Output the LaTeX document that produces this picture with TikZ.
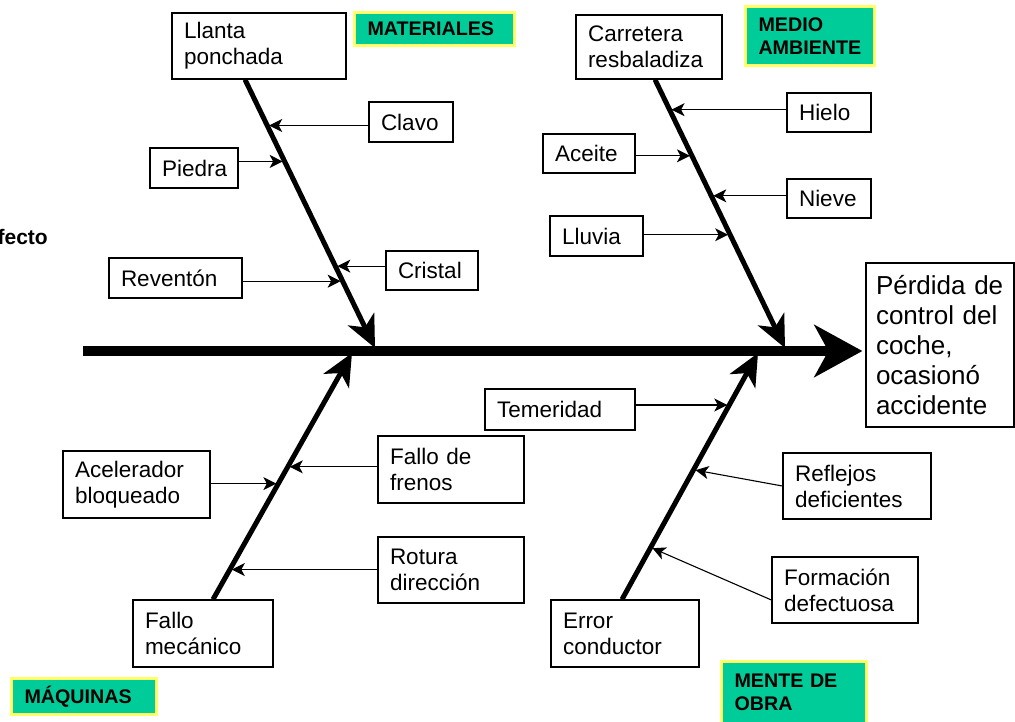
\documentclass[tikz,border=0pt]{standalone}
\usepackage{fontspec}
\setmainfont{Liberation Sans}
\usetikzlibrary{arrows.meta,calc}
\definecolor{catfill}{HTML}{00CC99}
\definecolor{catedge}{HTML}{FFFF66}
\begin{document}
\begin{tikzpicture}[x=1pt,y=-1pt,
  box/.style={draw=black, line width=1.2pt, fill=white, align=left,
    inner xsep=12pt, inner ysep=0pt, font=\fontsize{22.5}{26}\selectfont},
  cat/.style={draw=catedge, line width=3pt, fill=catfill, align=left,
    inner xsep=13pt, inner ysep=0pt, font=\fontsize{19.7}{23}\selectfont\bfseries},
  bone/.style={line width=5pt, -{Stealth[length=32pt,width=29pt,inset=9pt]}},
  spine/.style={line width=10pt, -{Stealth[length=48pt,width=52pt,inset=14pt]}},
  cause/.style={line width=1.1pt, -{Stealth[length=13pt,width=13pt,inset=3.5pt]},
    shorten >=2pt},
]
\useasboundingbox (0,0) rectangle (1015,721);
\clip (0,0) rectangle (1015,721);

% heading running off the left margin
\node[anchor=east, inner sep=0pt, font=\fontsize{21}{21}\selectfont\bfseries]
  (efecto) at (48,237) {Efecto};

% category labels
\node[cat, text width=134pt, minimum height=33pt] (materiales) at (434.5,29) {MATERIALES};
\node[cat, text width=103pt, minimum height=59pt] (medio) at (810,36) {MEDIO\\AMBIENTE};
\node[cat, text width=119pt, minimum height=36pt] (maquinas) at (84,696.5) {MÁQUINAS};
\node[cat, text width=119pt, minimum height=62pt] (mente) at (794,692) {MENTE DE\\OBRA};

% main causes
\node[box, text width=150pt, minimum height=66pt] (llanta) at (259,46) {Llanta\\ponchada};
\node[box, text width=122pt, minimum height=64pt] (carretera) at (649,47) {Carretera\\resbaladiza};
\node[box, text width=116pt, minimum height=67pt] (mecanico) at (203,633.5) {Fallo\\mecánico};
\node[box, text width=124pt, minimum height=67pt] (error) at (625,633.5) {Error\\conductor};

% secondary causes
\node[box, text width=60pt, minimum height=40pt] (clavo) at (411,122) {Clavo};
\node[box, text width=64pt, minimum height=40pt] (piedra) at (194,168) {Piedra};
\node[box, text width=68pt, minimum height=39pt] (cristal) at (432,270.5) {Cristal};
\node[box, text width=109pt, minimum height=40pt] (reventon) at (175.5,278) {Reventón};
\node[box, text width=60pt, minimum height=39pt] (hielo) at (829,112.5) {Hielo};
\node[box, text width=68pt, minimum height=39pt] (aceite) at (589,153.5) {Aceite};
\node[box, text width=60pt, minimum height=39pt] (nieve) at (829,198.5) {Nieve};
\node[box, text width=69pt, minimum height=40pt] (lluvia) at (596.5,236) {Lluvia};
\node[box, text width=126pt, minimum height=41pt] (temeridad) at (560,409.5) {Temeridad};
\node[box, text width=123pt, minimum height=67pt] (acelerador) at (136.5,484.5) {Acelerador\\bloqueado};
\node[box, text width=122pt, minimum height=67pt] (frenos) at (451,469.5) {Fallo de\\frenos};
\node[box, text width=124pt, minimum height=66pt] (reflejos) at (857,486) {Reflejos\\deficientes};
\node[box, text width=122pt, minimum height=66pt] (rotura) at (451,570) {Rotura\\dirección};
\node[box, text width=122pt, minimum height=66pt] (formacion) at (845,590) {Formación\\defectuosa};

% effect
\node[box, inner xsep=10pt, text width=128pt, minimum height=164pt,
  font=\fontsize{26}{30}\selectfont] (perdida) at (940,345)
  {Pérdida de\\control del\\coche,\\ocasionó\\accidente};

% bone tips on the spine
\coordinate (ultip) at (375,348);
\coordinate (urtip) at (785,348);
\coordinate (lltip) at (352,353);
\coordinate (lrtip) at (758,353);
\coordinate (sp) at (83,351);

% bones
\draw[bone] ([xshift=-14pt]llanta.south) -- (ultip);
\draw[bone] ([xshift=6pt]carretera.south) -- (urtip);
\draw[bone] ([xshift=10pt]mecanico.north) -- (lltip);
\draw[bone] ([xshift=-3pt]error.north) -- (lrtip);

% points on the bones where the small arrows land
\path ([xshift=-14pt]llanta.south) -- (ultip)
  coordinate[pos=0.171] (ul1) coordinate[pos=0.305] (ul2)
  coordinate[pos=0.695] (ul3) coordinate[pos=0.751] (ul4);
\path ([xshift=6pt]carretera.south) -- (urtip)
  coordinate[pos=0.112] (ur1) coordinate[pos=0.284] (ur2)
  coordinate[pos=0.433] (ur3) coordinate[pos=0.578] (ur4);
\path ([xshift=10pt]mecanico.north) -- (lltip)
  coordinate[pos=0.121] (ll1) coordinate[pos=0.470] (ll2)
  coordinate[pos=0.538] (ll3);
\path ([xshift=-3pt]error.north) -- (lrtip)
  coordinate[pos=0.211] (lr1) coordinate[pos=0.526] (lr2)
  coordinate[pos=0.789] (lr3);

% spine
\draw[spine, shorten >=3pt] (sp) -- (perdida.west |- sp);

% small cause arrows
\draw[cause] (clavo.west |- ul1) -- (ul1);
\draw[cause] (piedra.east |- ul2) -- (ul2);
\draw[cause] (cristal.west |- ul3) -- (ul3);
\draw[cause] (reventon.east |- ul4) -- (ul4);
\draw[cause] (hielo.west |- ur1) -- (ur1);
\draw[cause] (aceite.east |- ur2) -- (ur2);
\draw[cause] (nieve.west |- ur3) -- (ur3);
\draw[cause] (lluvia.east |- ur4) -- (ur4);
\draw[cause] (rotura.west |- ll1) -- (ll1);
\draw[cause] (acelerador.east |- ll2) -- (ll2);
\draw[cause] (frenos.west |- ll3) -- (ll3);
\draw[cause] ([yshift=-10pt]formacion.west) -- (lr1);
\draw[cause] (reflejos.west) -- (lr2);
\draw[cause] (temeridad.east |- lr3) -- (lr3);
\end{tikzpicture}
\end{document}
